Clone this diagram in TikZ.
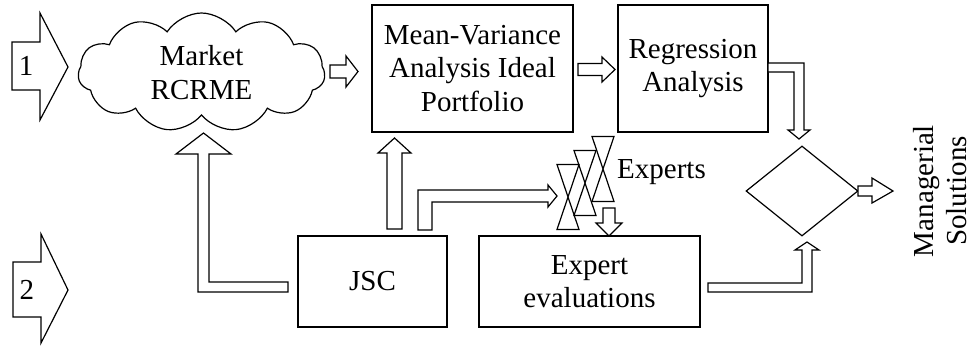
\documentclass[tikz,border=0pt]{standalone}
\usepackage{fontspec}
\setmainfont{Liberation Serif}
\usetikzlibrary{shapes.symbols,shapes.geometric}
\begin{document}
\begin{tikzpicture}[x=1pt,y=-1pt,
  every node/.style={font=\fontsize{29}{33.5}\selectfont},
  box/.style={draw,line width=1.2pt,inner sep=0pt,align=center},
  blk/.style={draw,line width=1.2pt,fill=white,line join=miter},
  hg/.style={draw,line width=1.2pt,line join=miter}]
\useasboundingbox (0,0) rectangle (973,349);

% input arrows
\draw[blk] (12,42)--(40,42)--(40,13)--(68,67)--(40,120)--(40,90)--(12,90)--cycle;
\node (in1) at (26,66) {1};
\draw[blk] (13,262)--(41,262)--(41,234)--(68,290)--(41,343)--(41,317)--(13,317)--cycle;
\node (in2) at (27,290) {2};

% main nodes
\node[cloud,draw,line width=1.2pt,cloud puffs=11,cloud puff arc=115,aspect=2.1,
      minimum width=247pt,minimum height=119pt,inner sep=0pt,align=center]
      (mkt) at (201.5,72.5) {Market\\RCRME};
\node[box,minimum width=201pt,minimum height=127pt] (mv) at (472.5,68.5)
      {Mean-Variance\\Analysis Ideal\\Portfolio};
\node[box,minimum width=150pt,minimum height=127pt] (reg) at (693,68.5)
      {Regression\\Analysis};
\node[box,minimum width=149pt,minimum height=91pt] (jsc) at (372.5,281.5) {JSC};
\node[box,minimum width=221pt,minimum height=91pt] (ee) at (589.5,281.5)
      {Expert\\evaluations};
\node[diamond,draw,line width=1.2pt,minimum width=112pt,minimum height=90pt,
      inner sep=0pt] (dia) at (802,191) {};
\node[rotate=90,align=center] (ms) at (940,191) {Managerial\\Solutions};

% experts hourglasses
\draw[hg] (557,164.5)--(579,164.5)--(557,229.5)--(579,229.5)--cycle;
\draw[hg] (574,150.5)--(596,150.5)--(574,215.5)--(596,215.5)--cycle;
\draw[hg] (592,136.5)--(614,136.5)--(592,201.5)--(614,201.5)--cycle;
\node[anchor=base west,inner sep=0pt] (exp) at (617,178) {Experts};

% block connectors
\draw[blk] (330,65)--(346,65)--(346,56)--(358,71.5)--(346,87)--(346,78)--(330,78)--cycle;
\draw[blk] (578,63.5)--(602,63.5)--(602,57)--(615,69.5)--(602,82)--(602,75.5)--(578,75.5)--cycle;
\draw[blk] (768,63)--(804,63)--(804,130)--(810,130)--(799,139)--(788,130)--(794,130)--(794,72)--(768,72)--cycle;
\draw[blk] (858,186)--(872,186)--(872,178)--(893,191)--(872,203)--(872,196)--(858,196)--cycle;
\draw[blk] (387,229)--(387,153)--(378,153)--(394.5,138)--(411,153)--(402,153)--(402,229)--cycle;
\draw[blk] (288,282)--(209,282)--(209,154)--(231,154)--(203.5,133)--(176,154)--(198,154)--(198,292)--(288,292)--cycle;
\draw[blk] (418,230)--(418,190)--(548,190)--(548,185)--(557,196)--(548,207)--(548,202)--(432,202)--(432,230)--cycle;
\draw[blk] (603,208)--(615,208)--(615,223)--(622,223)--(609,236)--(596,223)--(603,223)--cycle;
\draw[blk] (708,283)--(802,283)--(802,250)--(795,250)--(807,242)--(819,250)--(812,250)--(812,292)--(708,292)--cycle;
\end{tikzpicture}
\end{document}
